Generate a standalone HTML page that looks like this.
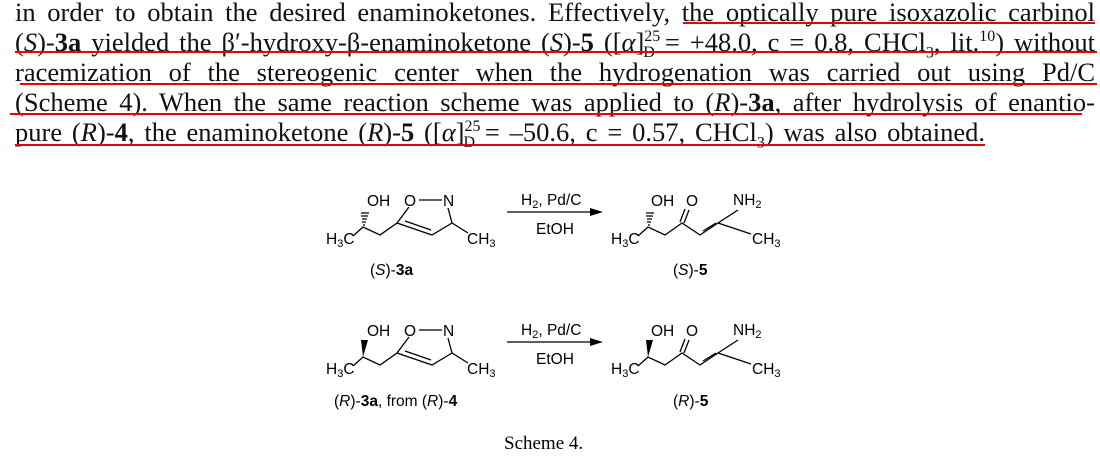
<!DOCTYPE html>
<html><head><meta charset="utf-8"><style>
body{margin:0;width:1100px;height:456px;background:#fff;overflow:hidden;position:relative;font-family:"Liberation Serif",serif;}
.l{position:absolute;left:15px;width:1080px;font-size:26.5px;line-height:30px;text-align:justify;text-align-last:justify;white-space:nowrap;color:#111;}
.r{position:absolute;height:2px;background:#e8000a;}
sub,sup{font-size:16px;line-height:0}
</style></head><body>
<div class="l" style="top:-3px;">in order to obtain the desired enaminoketones. Effectively, the optically pure isoxazolic carbinol</div>
<div class="l" style="top:27px;">(<i>S</i>)-<b>3a</b> yielded the β′-hydroxy-β-enaminoketone (<i>S</i>)-<b>5</b> ([<i>α</i>]<sup>25</sup><sub style="margin-left:-17px">D</sub> = +48.0, c = 0.8, CHCl<sub>3</sub>, lit.<sup>10</sup>) without</div>
<div class="l" style="top:57px;">racemization of the stereogenic center when the hydrogenation was carried out using Pd/C</div>
<div class="l" style="top:87px;">(Scheme 4). When the same reaction scheme was applied to (<i>R</i>)-<b>3a</b>, after hydrolysis of enantio-</div>
<div class="l" style="top:117px;width:970px;">pure (<i>R</i>)-<b>4</b>, the enaminoketone (<i>R</i>)-<b>5</b> ([<i>α</i>]<sup>25</sup><sub style="margin-left:-17px">D</sub> = –50.6, c = 0.57, CHCl<sub>3</sub>) was also obtained.</div>
<div class="r" style="left:683px;width:412px;top:22px"></div>
<div class="r" style="left:15px;width:1082px;top:51px"></div>
<div class="r" style="left:20px;width:1077px;top:83px"></div>
<div class="r" style="left:10px;width:1072px;top:113px"></div>
<div class="r" style="left:15px;width:970px;top:144px"></div>
<svg width="1100" height="456" style="position:absolute;left:0;top:0" font-family="Liberation Sans,sans-serif" font-size="15.5">
<defs>
<g id="r1" fill="#000" stroke="none">
<text x="326" y="244">H<tspan font-size="11" dy="3">3</tspan><tspan dy="-3">C</tspan></text>
<text x="367" y="206">OH</text>
<text x="404" y="206">O</text>
<text x="443" y="206">N</text>
<text x="467" y="244">CH<tspan font-size="11" dy="3">3</tspan></text>
<path d="M507,212 L590,212" stroke="#000" stroke-width="1.3"/>
<path d="M590,208 L603,212 L590,216 Z"/>
<text x="521" y="205">H<tspan font-size="11" dy="3">2</tspan><tspan dy="-3">, Pd/C</tspan></text>
<text x="536" y="234">EtOH</text>
<text x="611" y="244">H<tspan font-size="11" dy="3">3</tspan><tspan dy="-3">C</tspan></text>
<text x="651" y="206">OH</text>
<text x="686" y="206">O</text>
<text x="733" y="205">NH<tspan font-size="11" dy="3">2</tspan></text>
<text x="752" y="244">CH<tspan font-size="11" dy="3">3</tspan></text>
</g>
<g id="sm"><path d="M353,236 L363,227 L380,235 L397,223 L409,207 M419,200 L442,200 M448,208 L452,223 L432,235 L397,223 M431,230 L405,221 M452,223 L468,233" stroke="#000" stroke-width="1.3" fill="none"/></g>
<g id="p"><path d="M638,236 L648,227 L665,235 L682,223 L700,235 L718,223 L751,234 M684,223 L689,210 M680,222 L685,209 M703,231 L716,223 M718,223 L738,210" stroke="#000" stroke-width="1.3" fill="none"/></g>
</defs>
<use href="#r1"/><use href="#r1" y="130"/>
<use href="#sm"/><use href="#sm" y="130"/>
<use href="#p"/><use href="#p" y="130"/>
<g stroke="#000" stroke-width="1.2">
<path d="M363,225 L365,225 M362,222 L366,222 M362,219 L367,219 M361,216 L368,216 M361,213 L369,213"/>
<path d="M648,225 L650,225 M647,222 L651,222 M647,219 L652,219 M646,216 L653,216 M646,213 L654,213"/>
</g>
<path d="M363,357 L361,340 L368,340 Z"/>
<path d="M648,357 L646,340 L653,340 Z"/>
<text x="370" y="275">(<tspan font-style="italic">S</tspan>)-<tspan font-weight="bold">3a</tspan></text>
<text x="673" y="275">(<tspan font-style="italic">S</tspan>)-<tspan font-weight="bold">5</tspan></text>
<text x="334" y="406">(<tspan font-style="italic">R</tspan>)-<tspan font-weight="bold">3a</tspan>, from (<tspan font-style="italic">R</tspan>)-<tspan font-weight="bold">4</tspan></text>
<text x="673" y="406">(<tspan font-style="italic">R</tspan>)-<tspan font-weight="bold">5</tspan></text>
<text x="504" y="449" font-family="Liberation Serif,serif" font-size="19">Scheme 4.</text>
</svg>
</body></html>
